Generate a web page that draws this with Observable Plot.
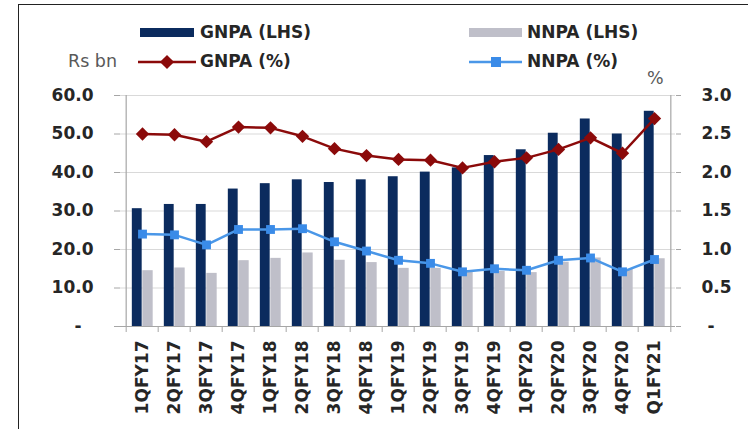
<!DOCTYPE html>
<html>
<head>
<meta charset="utf-8">
<script src="https://cdn.jsdelivr.net/npm/d3@7"></script>
<script src="https://cdn.jsdelivr.net/npm/@observablehq/plot@0.6"></script>
<style>
  html, body { margin: 0; padding: 0; background: #fff; }
  #wrap { position: relative; width: 748px; height: 429px; overflow: hidden; font-family: "DejaVu Sans", sans-serif; }
  #wrap svg.plot { position: absolute; left: 0; top: 0; }
  .frame { position: absolute; left: 18px; top: 4px; width: 900px; height: 600px; border-left: 1.5px solid #222; border-top: 1.5px solid #222; }
  .lg { position: absolute; font-size: 17px; font-weight: bold; color: #262626; line-height: 1; white-space: nowrap; }
  .unit { position: absolute; font-size: 17.5px; color: #595959; line-height: 1; white-space: nowrap; }
  .sw { position: absolute; }
</style>
</head>
<body>
<div id="wrap">
  <div class="frame"></div>
  <div id="chart"></div>
  <div class="sw" style="left:140px;top:28px;width:54px;height:9px;background:#0b2b5e"></div>
  <div class="lg" style="left:200px;top:24px">GNPA (LHS)</div>
  <div class="sw" style="left:469px;top:28px;width:53px;height:9px;background:#bfbfc9"></div>
  <div class="lg" style="left:527px;top:24px">NNPA (LHS)</div>
  <div class="unit" style="left:68px;top:53px">Rs bn</div>
  <svg class="sw" style="left:136px;top:52px" width="62" height="20">
    <line x1="2" y1="10" x2="60" y2="10" stroke="#8b0a0a" stroke-width="2.5"/>
    <rect x="26" y="5" width="10" height="10" fill="#8b0a0a" transform="rotate(45 31 10)"/>
  </svg>
  <div class="lg" style="left:200px;top:53px">GNPA (%)</div>
  <svg class="sw" style="left:467px;top:52px" width="58" height="20">
    <line x1="2" y1="10" x2="55" y2="10" stroke="#4a97e8" stroke-width="2.5"/>
    <rect x="24" y="5" width="10" height="10" fill="#3a8be8"/>
  </svg>
  <div class="lg" style="left:527px;top:53px">NNPA (%)</div>
  <div class="unit" style="left:647px;top:70px">%</div>
</div>
<script>
const categories = ["1QFY17","2QFY17","3QFY17","4QFY17","1QFY18","2QFY18","3QFY18","4QFY18","1QFY19","2QFY19","3QFY19","4QFY19","1QFY20","2QFY20","3QFY20","4QFY20","Q1FY21"];
const gnpa = [30.6, 31.7, 31.7, 35.7, 37.1, 38.1, 37.4, 38.1, 38.9, 40.1, 41.2, 44.4, 45.9, 50.2, 53.9, 50.0, 55.9];
const nnpa = [14.5, 15.2, 13.8, 17.1, 17.7, 19.1, 17.2, 16.6, 15.1, 15.1, 14.1, 14.3, 14.0, 16.7, 17.8, 14.8, 17.6];
const gnpaPct = [2.50, 2.49, 2.40, 2.59, 2.58, 2.47, 2.31, 2.22, 2.17, 2.16, 2.06, 2.14, 2.19, 2.30, 2.45, 2.25, 2.70];
const nnpaPct = [1.20, 1.19, 1.06, 1.26, 1.26, 1.27, 1.10, 0.98, 0.86, 0.82, 0.71, 0.75, 0.73, 0.86, 0.89, 0.71, 0.87];
const leftTicks = [0, 10, 20, 30, 40, 50, 60];
const rightTicks = [0, 0.5, 1.0, 1.5, 2.0, 2.5, 3.0];

const K = 20; // right axis (0–3%) mapped onto left axis (0–60)
const rows = categories.map((q, i) => ({q, gnpa: gnpa[i], nnpa: nnpa[i], gp: gnpaPct[i], np: nnpaPct[i]}));

const W = 748, H = 429, mL = 120, mR = 73, mT = 95, mB = 103;
const bw = (W - mL - mR) / categories.length;
const axisFont = {fontFamily: "DejaVu Sans, sans-serif", fontSize: 17, fontWeight: "bold", fill: "#262626"};

const chart = Plot.plot({
  width: W, height: H,
  marginLeft: mL, marginRight: mR, marginTop: mT, marginBottom: mB,
  style: {fontFamily: "DejaVu Sans, sans-serif", background: "transparent", overflow: "visible"},
  x: {type: "band", domain: categories, padding: 0, label: null},
  y: {domain: [0, 60], label: null},
  marks: [
    Plot.gridY(leftTicks.slice(1), {stroke: "#d9d9d9", strokeOpacity: 1, strokeWidth: 1}),
    Plot.barY(rows, {x: "q", y: "gnpa", fill: "#0b2b5e", insetLeft: bw/2 - 10.5, insetRight: bw/2}),
    Plot.barY(rows, {x: "q", y: "nnpa", fill: "#bfbfc9", insetLeft: bw/2, insetRight: bw/2 - 11}),
    Plot.ruleY([0], {stroke: "#a6a6a6", strokeWidth: 1.2}),
    Plot.ruleX([categories[0]], {y1: 0, y2: 60, dx: -bw/2, stroke: "#a6a6a6", strokeWidth: 1.2}),
    Plot.ruleX([categories[categories.length - 1]], {y1: 0, y2: 60, dx: bw/2, stroke: "#a6a6a6", strokeWidth: 1.2}),
    Plot.axisX({ticks: categories, tickSize: 6, tickFormat: () => null, dx: -bw/2, stroke: "#a6a6a6"}),
    Plot.axisX({ticks: [categories[categories.length - 1]], tickSize: 6, tickFormat: () => null, dx: bw/2, stroke: "#a6a6a6"}),
    Plot.axisX({tickSize: 0, tickPadding: 14, tickRotate: -90, ...axisFont}),
    Plot.axisY({anchor: "left", ticks: leftTicks, tickSize: 6, tickPadding: 21, stroke: "#a6a6a6",
      tickFormat: d => d === 0 ? "-\u00a0\u00a0" : d.toFixed(1), ...axisFont}),
    Plot.axisY({anchor: "right", ticks: rightTicks.map(v => v * K), tickSize: 5, tickPadding: 21, stroke: "#a6a6a6",
      tickFormat: d => d === 0 ? "\u00a0-" : (d / K).toFixed(1), ...axisFont}),
    Plot.line(rows, {x: "q", y: d => d.gp * K, stroke: "#8b0a0a", strokeWidth: 2.5}),
    Plot.dot(rows, {x: "q", y: d => d.gp * K, symbol: "diamond2", r: 6, fill: "#8b0a0a", stroke: "none"}),
    Plot.line(rows, {x: "q", y: d => d.np * K, stroke: "#4a97e8", strokeWidth: 2.5}),
    Plot.dot(rows, {x: "q", y: d => d.np * K, symbol: "square", r: 5, fill: "#3a8be8", stroke: "none"})
  ]
});
chart.classList.add("plot");
document.getElementById("chart").appendChild(chart);
</script>
</body>
</html>
